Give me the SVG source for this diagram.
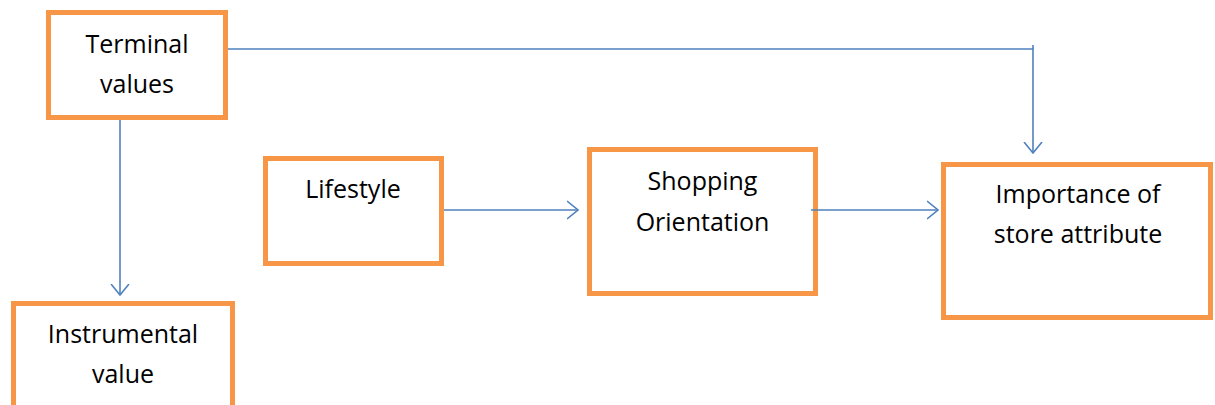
<svg xmlns="http://www.w3.org/2000/svg" width="1215" height="405" viewBox="0 0 1215 405">
  <style>
    .box { fill: #ffffff; stroke: #F79646; stroke-width: 5; }
    .lbl { font-family: "Open Sans", "Liberation Sans", sans-serif; font-size: 25px; fill: #000000; text-anchor: middle; }
    .link { fill: none; stroke: #4F81BD; stroke-width: 1.6; }
  </style>
  <defs>
    <marker id="open-arrow" viewBox="0 0 12 20" refX="11" refY="10" markerWidth="12" markerHeight="20" markerUnits="userSpaceOnUse" orient="auto">
      <path d="M0,1 L11,10 L0,19" fill="none" stroke="#4F81BD" stroke-width="1.6"/>
    </marker>
  </defs>

  <rect width="1215" height="405" fill="#ffffff"/>

  <g id="node-terminal">
    <rect class="box" x="48.5" y="12.5" width="177" height="105"/>
    <text class="lbl" x="137" y="53">Terminal</text>
    <text class="lbl" x="137" y="93">values</text>
  </g>

  <g id="node-instrumental">
    <rect class="box" x="13.5" y="303.5" width="219" height="120"/>
    <text class="lbl" x="123" y="343">Instrumental</text>
    <text class="lbl" x="123" y="383">value</text>
  </g>

  <g id="node-lifestyle">
    <rect class="box" x="265.5" y="158.5" width="176" height="105"/>
    <text class="lbl" x="353" y="198">Lifestyle</text>
  </g>

  <g id="node-shopping">
    <rect class="box" x="589.5" y="149.5" width="226" height="144"/>
    <text class="lbl" x="702.5" y="190">Shopping</text>
    <text class="lbl" x="702.5" y="231">Orientation</text>
  </g>

  <g id="node-importance">
    <rect class="box" x="943.5" y="164.5" width="267" height="153"/>
    <text class="lbl" x="1078" y="203">Importance of</text>
    <text class="lbl" x="1078" y="243">store attribute</text>
  </g>

  <g id="connectors">
    <polyline class="link" points="228,49 1033,49 1033,153" marker-end="url(#open-arrow)"/>
    <line class="link" x1="1033" y1="45" x2="1033" y2="49"/>
    <line class="link" x1="120" y1="120" x2="120" y2="295" marker-end="url(#open-arrow)"/>
    <line class="link" x1="444" y1="210" x2="578" y2="210" marker-end="url(#open-arrow)"/>
    <line class="link" x1="811" y1="210" x2="938" y2="210" marker-end="url(#open-arrow)"/>
  </g>
</svg>
